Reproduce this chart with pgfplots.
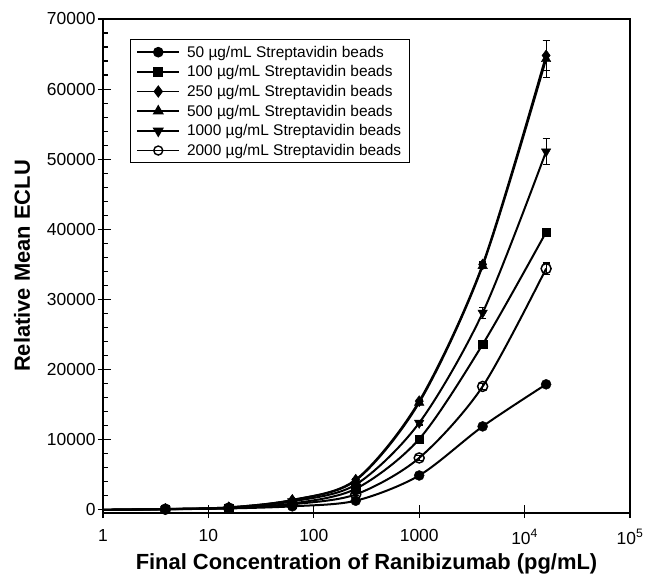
\documentclass[border=0pt]{standalone}
\usepackage{fontspec}
\setmainfont{Liberation Sans}
\usepackage{pgfplots}
\pgfplotsset{compat=1.18}
\begin{document}
\begin{tikzpicture}
\begin{axis}[
  scale only axis, width=527bp, height=494bp,
  xmode=log, log basis x=10,
  xmin=1, xmax=100000, ymin=-450, ymax=70000,
  xtick={1,10,100,1000,10000,100000},
  xticklabels={1,10,100,1000,10\textsuperscript{4},10\textsuperscript{5}},
  ytick={0,10000,20000,30000,40000,50000,60000,70000},
  scaled y ticks=false,
  yticklabel style={xshift=-4bp, /pgf/number format/.cd, fixed, 1000 sep={}, assume math mode=true},
  xticklabel style={yshift=-13bp},
  minor y tick num=4,
  xtick pos=bottom, ytick pos=left,
  tick align=inside,
  major tick length=13bp, minor tick length=5bp,
  major x tick style={yshift=-5bp},
  major y tick style={xshift=-5bp},
  axis line style={line width=1.6bp},
  tick style={line width=1.2bp, black},
  ticklabel style={font=\fontsize{17.5}{21}\selectfont},
  xlabel={Final Concentration of Ranibizumab (pg/mL)},
  ylabel={Relative Mean ECLU},
  ylabel shift=10bp,
  xlabel shift=2bp,
  label style={font=\fontsize{22}{26}\selectfont\bfseries},
  legend style={at={(0.051,0.959)}, anchor=north west, draw=black, line width=1.2bp,
    font=\fontsize{15.5}{18}\selectfont, inner xsep=6bp, inner ysep=4bp, row sep=3bp},
  legend cell align=left,
  legend image code/.code={\draw[mark repeat=2,mark phase=2] plot coordinates {(0bp,0bp)(21bp,0bp)(42bp,0bp)}; \path (47bp,0bp);},
  error bars/error bar style={line width=1.1bp},
  error bars/error mark options={rotate=90, mark size=3.5bp, line width=1.1bp},
]
\addlegendimage{black, line width=1.6bp, mark=*, mark size=4.5bp}
\addlegendentry{50 µg/mL Streptavidin beads}
\addlegendimage{black, line width=1.6bp, mark=square*, mark size=4bp}
\addlegendentry{100 µg/mL Streptavidin beads}
\addlegendimage{black, line width=1.6bp, mark=diamond*, mark size=5bp}
\addlegendentry{250 µg/mL Streptavidin beads}
\addlegendimage{black, line width=1.6bp, mark=triangle*, mark size=5bp}
\addlegendentry{500 µg/mL Streptavidin beads}
\addlegendimage{black, line width=1.6bp, mark=triangle*, mark size=5bp, mark options={rotate=180}}
\addlegendentry{1000 µg/mL Streptavidin beads}
\addlegendimage{black, line width=1.6bp, mark=o, mark size=4.5bp, mark options={fill=white, line width=1.4bp}}
\addlegendentry{2000 µg/mL Streptavidin beads}

% fitted curves
\addplot[black, line width=2bp, smooth, forget plot] coordinates {(1,0)(3.90625,80)(15.625,200)(62.5,500)(250,1300)(1000,4900)(4000,11900)(16000,17900)};
\addplot[black, line width=2bp, smooth, forget plot] coordinates {(1,0)(3.90625,100)(15.625,250)(62.5,900)(250,3000)(1000,10100)(4000,23600)(16000,39600)};
\addplot[black, line width=2bp, smooth, forget plot] coordinates {(1,0)(3.90625,120)(15.625,350)(62.5,1400)(250,4300)(1000,15500)(4000,35000)(16000,64800)};
\addplot[black, line width=2bp, smooth, forget plot] coordinates {(1,0)(3.90625,120)(15.625,350)(62.5,1400)(250,4200)(1000,15300)(4000,34800)(16000,64300)};
\addplot[black, line width=2bp, smooth, forget plot] coordinates {(1,0)(3.90625,100)(15.625,300)(62.5,1200)(250,3600)(1000,12400)(4000,28100)(16000,51100)};
\addplot[black, line width=2bp, smooth, forget plot] coordinates {(1,0)(3.90625,90)(15.625,250)(62.5,800)(250,2200)(1000,7400)(4000,17600)(16000,34400)};

% data points
\addplot[black, only marks, mark=*, mark size=5bp, forget plot, error bars/.cd, y dir=both, y explicit]
  coordinates {(3.90625,80)+-(0,100)(15.625,200)+-(0,100)(62.5,500)+-(0,100)(250,1300)+-(0,150)(1000,4900)+-(0,200)(4000,11900)+-(0,300)(16000,17900)+-(0,300)};
\addplot[black, only marks, mark=square*, mark size=4.3bp, forget plot, error bars/.cd, y dir=both, y explicit]
  coordinates {(3.90625,100)+-(0,100)(15.625,250)+-(0,100)(62.5,900)+-(0,100)(250,3000)+-(0,150)(1000,10100)+-(0,300)(4000,23600)+-(0,400)(16000,39600)+-(0,400)};
\addplot[black, only marks, mark=diamond*, mark size=5.5bp, forget plot, error bars/.cd, y dir=both, y explicit]
  coordinates {(3.90625,120)+-(0,100)(15.625,350)+-(0,100)(62.5,1400)+-(0,100)(250,4300)+-(0,150)(1000,15500)+-(0,300)(4000,35000)+-(0,400)(16000,64800)+-(0,2100)};
\addplot[black, only marks, mark=triangle*, mark size=5.5bp, forget plot, error bars/.cd, y dir=both, y explicit]
  coordinates {(3.90625,120)+-(0,100)(15.625,350)+-(0,100)(62.5,1400)+-(0,100)(250,4200)+-(0,150)(1000,15300)+-(0,300)(4000,34800)+-(0,400)(16000,64300)+-(0,2600)};
\addplot[black, only marks, mark=triangle*, mark size=5.5bp, mark options={rotate=180}, forget plot, error bars/.cd, y dir=both, y explicit]
  coordinates {(3.90625,100)+-(0,100)(15.625,300)+-(0,100)(62.5,1200)+-(0,100)(250,3600)+-(0,150)(1000,12400)+-(0,300)(4000,28100)+-(0,800)(16000,51100)+-(0,1900)};
\addplot[black, only marks, mark=o, mark size=5bp, mark options={fill=white, line width=1.5bp}, forget plot, error bars/.cd, y dir=both, y explicit]
  coordinates {(3.90625,90)+-(0,100)(15.625,250)+-(0,100)(62.5,800)+-(0,100)(250,2200)+-(0,150)(1000,7400)+-(0,300)(4000,17600)+-(0,400)(16000,34400)+-(0,800)};
\end{axis}
\path (-103bp,-66bp) rectangle (545bp,513bp);
\end{tikzpicture}
\end{document}
